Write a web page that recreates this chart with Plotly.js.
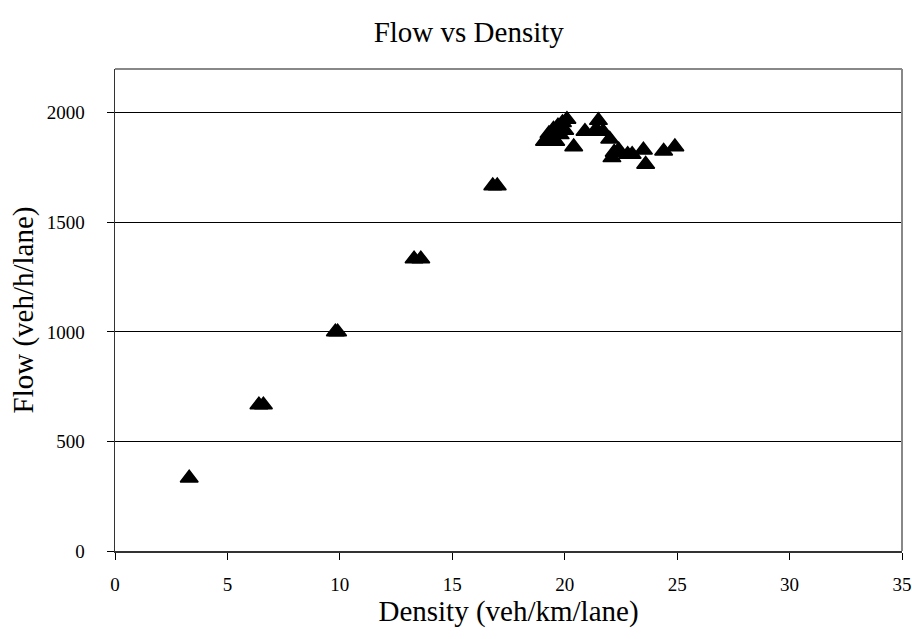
<!DOCTYPE html>
<html>
<head>
<meta charset="utf-8">
<script src="https://cdn.plot.ly/plotly-3.0.1.min.js"></script>
<style>html,body{margin:0;padding:0;background:#fff;}#chart{width:912px;height:639px;}</style>
</head>
<body>
<div id="chart"></div>
<script>
const density = [3.3, 6.4, 6.6, 9.8, 9.9, 13.3, 13.6, 16.8, 17.0,
  19.1, 19.3, 19.4, 19.5, 19.6, 19.7, 19.8, 19.9, 20.0, 20.1,
  20.4, 20.9, 21.4, 21.5, 21.7, 22.0, 22.1, 22.2, 22.4, 22.8, 23.0, 23.5, 23.6, 24.4, 24.9];
const flow = [333, 667, 667, 1000, 1000, 1333, 1333, 1667, 1667,
  1870, 1905, 1880, 1925, 1870, 1940, 1900, 1955, 1920, 1970,
  1845, 1915, 1925, 1965, 1915, 1880, 1795, 1820, 1830, 1810, 1810, 1830, 1765, 1825, 1845];
const xTicks = [0, 5, 10, 15, 20, 25, 30, 35];
const yTicks = [0, 500, 1000, 1500, 2000];

const serif = "Liberation Serif";
Plotly.newPlot('chart', [{
  x: density, y: flow, type: 'scatter', mode: 'markers',
  marker: {symbol: 'triangle-up', size: 15.5, color: '#000', line: {color: '#000', width: 1.5}},
  showlegend: false, hoverinfo: 'x+y'
}], {
  width: 912, height: 639,
  margin: {l: 115, r: 10, t: 69, b: 88, pad: 0},
  paper_bgcolor: '#fff', plot_bgcolor: '#fff',
  font: {family: serif, color: '#000'},
  title: {text: 'Flow vs Density', font: {family: serif, size: 29, color: '#000'},
          x: 0.514, xref: 'container', xanchor: 'center', y: 0.95, yref: 'container', yanchor: 'middle'},
  xaxis: {
    range: [0, 35], tickvals: xTicks, ticktext: xTicks.map(String),
    showgrid: false, zeroline: false, showline: true, linecolor: '#333', linewidth: 1.5,
    ticks: 'outside', ticklen: 7, tickcolor: '#000', tickwidth: 1,
    tickfont: {family: serif, size: 19, color: '#000'}, ticklabelstandoff: 9,
    title: {text: 'Density (veh/km/lane)', font: {family: serif, size: 29, color: '#000'}, standoff: 6}
  },
  yaxis: {
    range: [0, 2200], tickvals: yTicks, ticktext: yTicks.map(String),
    showgrid: true, gridcolor: '#000', gridwidth: 1,
    zeroline: false, showline: true, linecolor: '#333', linewidth: 1.5,
    ticks: 'outside', ticklen: 7, tickcolor: '#000', tickwidth: 1,
    tickfont: {family: serif, size: 19, color: '#000'}, ticklabelstandoff: 18,
    title: {text: 'Flow (veh/h/lane)', font: {family: serif, size: 29, color: '#000'}, standoff: 4}
  },
  shapes: [
    {type: 'line', xref: 'paper', yref: 'paper', x0: 0, x1: 1, y0: 1, y1: 1, line: {color: '#888', width: 2}},
    {type: 'line', xref: 'paper', yref: 'paper', x0: 1, x1: 1, y0: 0, y1: 1, line: {color: '#888', width: 2}}
  ]
}, {staticPlot: true});
</script>
</body>
</html>
